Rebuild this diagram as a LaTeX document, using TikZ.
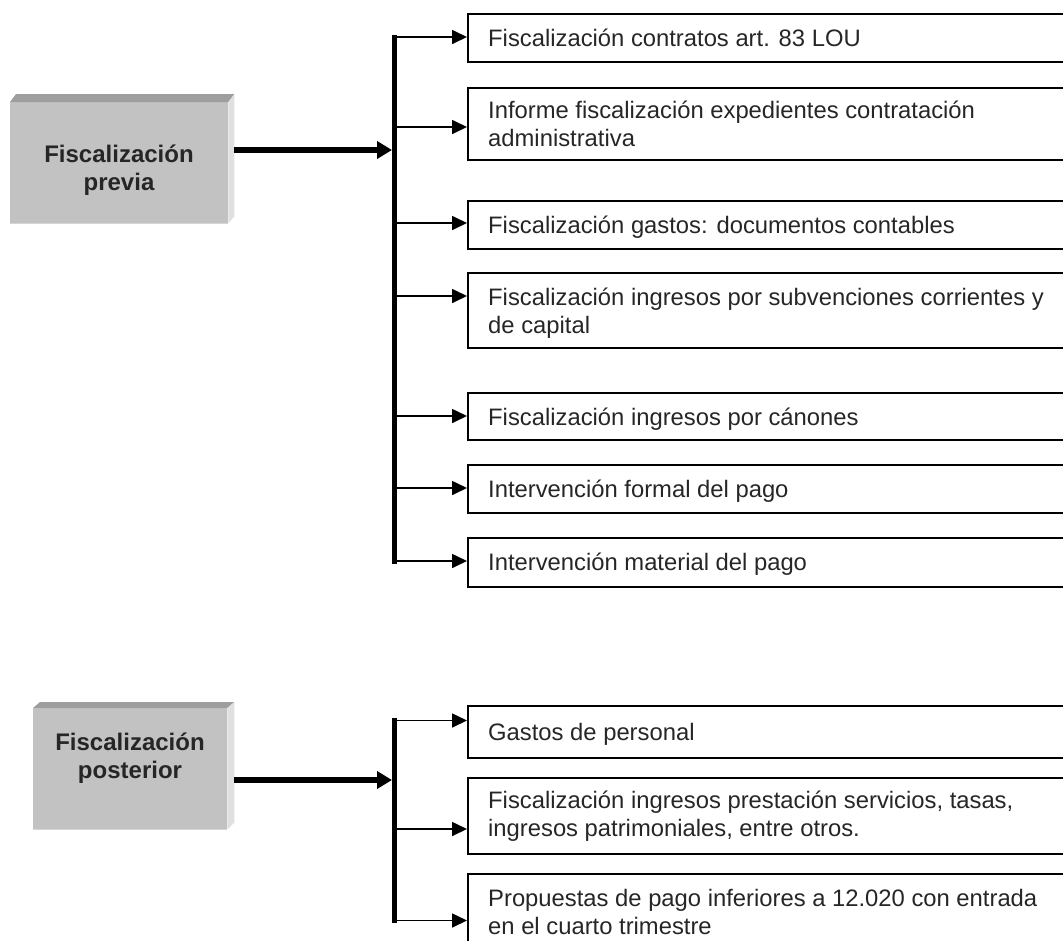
\documentclass[tikz,border=0pt]{standalone}
\usepackage{fontspec}
\setmainfont{Liberation Sans}
\usetikzlibrary{arrows.meta,calc}
\definecolor{txtc}{HTML}{262626}
\definecolor{frontc}{HTML}{C2C2C2}
\definecolor{topc}{HTML}{9E9E9E}
\definecolor{sidec}{HTML}{E0E0E0}
\definecolor{edgec}{HTML}{D6D6D6}
\begin{document}
\begin{tikzpicture}[x=1pt,y=-1pt,
  rbox/.style={draw=black, line width=1.8pt, anchor=north west, minimum width=700pt, inner sep=0pt},
  rtxt/.style={anchor=base west, inner sep=0pt, align=left, text=txtc, font=\fontsize{23.8}{28}\selectfont},
  ltxt/.style={anchor=base, inner sep=0pt, text=txtc, font=\fontsize{24}{28}\selectfont\bfseries},
  front/.style={fill=frontc, draw=none, anchor=north west, inner sep=0pt},
  thinarrow/.style={line width=1.7pt, -{Triangle[length=15pt,width=14pt]}},
  thickarrow/.style={line width=5.5pt, -{Triangle[length=15pt,width=17pt]}},
  barline/.style={line width=5pt}]
\useasboundingbox (0,0) rectangle (1063,940);
\clip (0,0) rectangle (1063,940);

% ---------- left 3D boxes ----------
\node[front, minimum width=218pt, minimum height=121pt] (L1) at (10,102) {};
\fill[topc] (L1.north west) -- ++(6,-8) -- ($(L1.north east)+(6,-8)$) -- (L1.north east) -- cycle;
\fill[sidec] (L1.north east) -- ++(6,-8) -- ($(L1.south east)+(6,-7)$) -- (L1.south east) -- cycle;
\draw[edgec, line width=1pt] (L1.south west) -- (L1.south east);
\node[ltxt] (L1a) at (119,162) {Fiscalización};
\node[ltxt] (L1b) at (119,190) {previa};

\node[front, minimum width=194pt, minimum height=121pt] (L2) at (33,708) {};
\fill[topc] (L2.north west) -- ++(7,-6) -- ($(L2.north east)+(7,-6)$) -- (L2.north east) -- cycle;
\fill[sidec] (L2.north east) -- ++(7,-6) -- ($(L2.south east)+(7,-7)$) -- (L2.south east) -- cycle;
\draw[edgec, line width=1pt] (L2.south west) -- (L2.south east);
\node[ltxt] (L2a) at (130,750) {Fiscalización};
\node[ltxt] (L2b) at (130,778) {posterior};

% ---------- right boxes (top group) ----------
% (for two-line texts, the base anchor is the baseline of the last line)
\node[rbox, minimum height=48pt] (b1) at (467,13) {};
\node[rtxt] (t1) at (488,46) {Fiscalización contratos art. 83 LOU};
\node[rbox, minimum height=72pt] (b2) at (467,87) {};
\node[rtxt] (t2) at (488,146) {Informe fiscalización expedientes contratación\\administrativa};
\node[rbox, minimum height=48pt] (b3) at (467,200) {};
\node[rtxt] (t3) at (488,233) {Fiscalización gastos: documentos contables};
\node[rbox, minimum height=75pt] (b4) at (467,272) {};
\node[rtxt] (t4) at (488,333) {Fiscalización ingresos por subvenciones corrientes y\\de capital};
\node[rbox, minimum height=47pt] (b5) at (467,392) {};
\node[rtxt] (t5) at (488,425) {Fiscalización ingresos por cánones};
\node[rbox, minimum height=48pt] (b6) at (467,464) {};
\node[rtxt] (t6) at (488,497) {Intervención formal del pago};
\node[rbox, minimum height=49pt] (b7) at (467,537) {};
\node[rtxt] (t7) at (488,570) {Intervención material del pago};

% ---------- right boxes (bottom group) ----------
\node[rbox, minimum height=52pt] (b8) at (467,705) {};
\node[rtxt] (t8) at (488,740) {Gastos de personal};
\node[rbox, minimum height=76pt] (b9) at (467,777) {};
\node[rtxt] (t9) at (488,836) {Fiscalización ingresos prestación servicios, tasas,\\ingresos patrimoniales, entre otros.};
\node[rbox, minimum height=80pt] (b10) at (467,873) {};
\node[rtxt] (t10) at (488,934) {Propuestas de pago inferiores a 12.020 con entrada\\en el cuarto trimestre};

% ---------- bars and branch points ----------
\coordinate (barT1) at (394.5,34.5);
\coordinate (barB1) at (394.5,563.5);
\draw[barline] (barT1) -- (barB1);
\coordinate (a1) at (394.5,37);
\coordinate (a2) at (394.5,127);
\coordinate (a3) at (394.5,223);
\coordinate (a4) at (394.5,296);
\coordinate (a5) at (394.5,416);
\coordinate (a6) at (394.5,488);
\coordinate (a7) at (394.5,561);
\foreach \i in {1,...,7} {\draw[thinarrow] (a\i) -- (a\i -| b\i.west);}

\coordinate (barT2) at (394.5,718);
\coordinate (barB2) at (394.5,923);
\draw[barline] (barT2) -- (barB2);
\coordinate (a8) at (394.5,720.5);
\coordinate (a9) at (394.5,829);
\coordinate (a10) at (394.5,920.5);
\foreach \i in {8,9,10} {\draw[thinarrow] (a\i) -- (a\i -| b\i.west);}

% ---------- thick arrows ----------
\coordinate (h1) at (392,150);
\draw[thickarrow] ([xshift=6pt]L1.east |- h1) -- (h1);
\coordinate (h2) at (392,780);
\draw[thickarrow] ([xshift=7pt]L2.east |- h2) -- (h2);
\end{tikzpicture}
\end{document}
